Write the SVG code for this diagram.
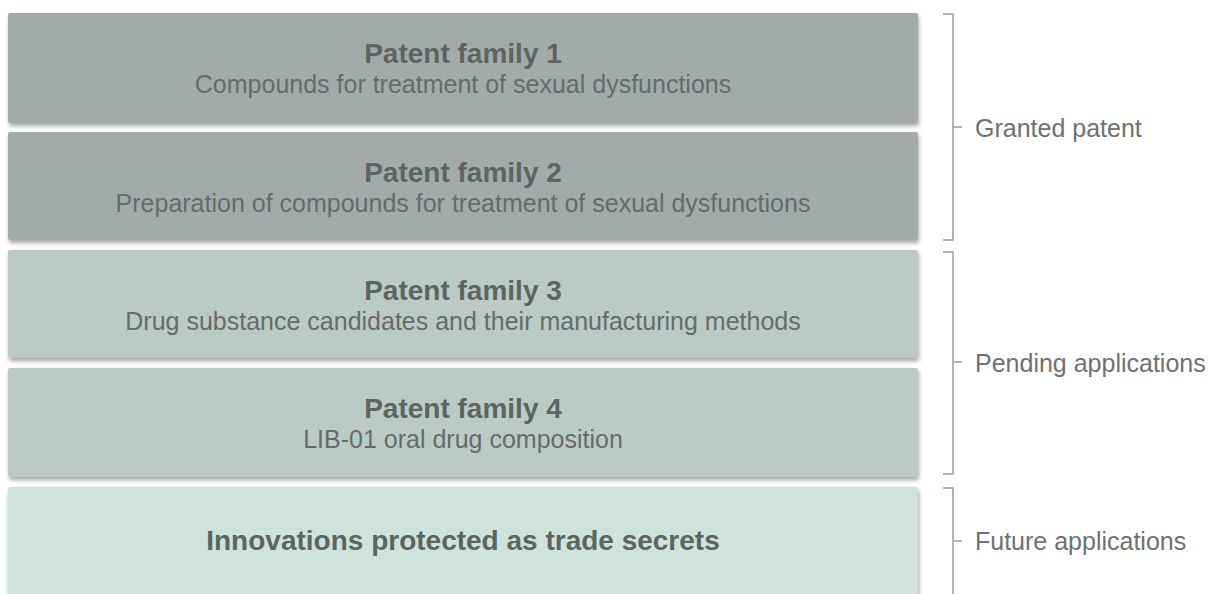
<svg xmlns="http://www.w3.org/2000/svg" width="1208" height="594" viewBox="0 0 1208 594">
<defs>
<filter id="sh" x="-5%" y="-10%" width="110%" height="130%">
<feDropShadow dx="1" dy="3" stdDeviation="2" flood-color="#000" flood-opacity="0.35"/>
</filter>
<style>
.box{filter:url(#sh)}
.g{fill:#a3abaa}
.p{fill:#bccac6}
.f{fill:#cfe3dc}
.t{font-family:"Liberation Sans",Arial,sans-serif;font-weight:bold;font-size:28px;fill:#5d6462;text-anchor:middle}
.s{font-family:"Liberation Sans",Arial,sans-serif;font-size:25px;fill:#666c6a;text-anchor:middle}
.l{font-family:"Liberation Sans",Arial,sans-serif;font-size:25px;fill:#6e7272}
.br{fill:none;stroke:#9c9c9c;stroke-width:1.5}
</style>
</defs>
<rect width="1208" height="594" fill="#ffffff"/>
<g id="node1"><rect class="box g" x="8" y="13" width="910" height="110" rx="2"/>
<text class="t" x="463" y="63">Patent family 1</text>
<text class="s" x="463" y="93">Compounds for treatment of sexual dysfunctions</text></g>
<g id="node2"><rect class="box g" x="8" y="132" width="910" height="108" rx="2"/>
<text class="t" x="463" y="182">Patent family 2</text>
<text class="s" x="463" y="212">Preparation of compounds for treatment of sexual dysfunctions</text></g>
<g id="node3"><rect class="box p" x="8" y="250" width="910" height="108" rx="2"/>
<text class="t" x="463" y="300">Patent family 3</text>
<text class="s" x="463" y="330">Drug substance candidates and their manufacturing methods</text></g>
<g id="node4"><rect class="box p" x="8" y="368" width="910" height="109" rx="2"/>
<text class="t" x="463" y="418">Patent family 4</text>
<text class="s" x="463" y="448">LIB-01 oral drug composition</text></g>
<g id="node5"><rect class="box f" x="8" y="487" width="910" height="120" rx="2"/>
<text class="t" x="463" y="550">Innovations protected as trade secrets</text></g>
<g id="connectors">
<path class="br" d="M943 14 H953 V240 H943 M953 127 H962"/>
<path class="br" d="M943 252 H953 V474 H943 M953 362 H962"/>
<path class="br" d="M943 488 H953 V600 M953 541 H962"/>
</g>
<g id="labels">
<text class="l" x="975" y="137">Granted patent</text>
<text class="l" x="975" y="372">Pending applications</text>
<text class="l" x="975" y="550">Future applications</text>
</g>
</svg>
